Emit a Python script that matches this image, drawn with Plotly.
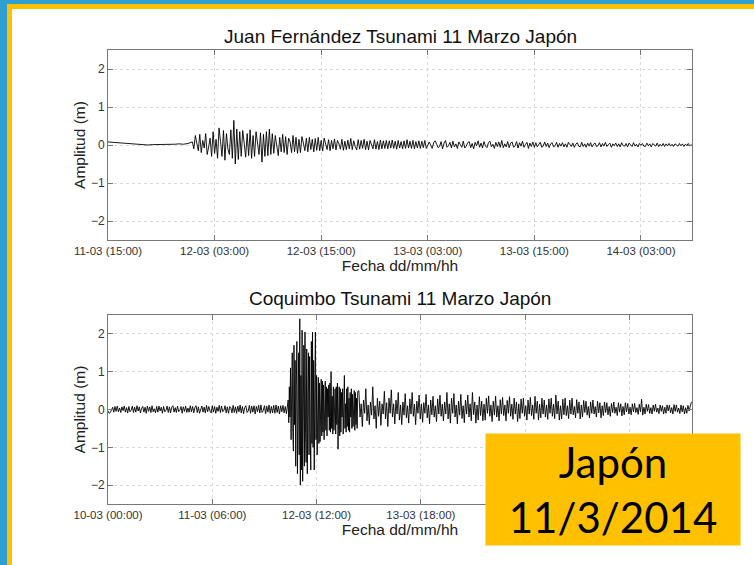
import pandas as pd
import plotly.graph_objects as go

# ---------------- data (amplitudes in cm) ----------------
# Juan Fernández record: segments (start time, sampling step in minutes, values)
jf_a_start, jf_a_step = "2011-03-11 15:00", 30
jf_a = [8, 7, 6, 6, 4, 3, 2, 1, 1, 0, 1, 1, 2, 1, 2, 2, 3, 2, 4, 8]

jf_b_start, jf_b_step = "2011-03-12 00:40", 10
jf_b = [-10, 25, 5, -15, 28, -20, 12, -8, 30, -25, -5, 18, -30, 35,
        -22, 15, -35, 45, 10, -30, 38, -40, 30, -10, -25, 40,
        -35, 65, -50, 42, -38, 35,
        -30, 38, 5, -32, 30, -28, 40, -35, 25, -30, 35, 10, -25, 32, -45, 28, -30, 35,
        -28, 42, -25, 30, -22, 25, -5, -28, 20, -18, 28, -20, 22, -25, 18, 8, -20, 25,
        -18, 20, -22, 15, -20, 22, 5, -15, 18, -18, 20, -12, 15, -18, 17, -14, 20, -15,
        12, -16, 18, -2, -12, 14, -15, 12, -10, 16, -13, 12, 3, -11, 15, -14, 10, -12,
        13, -10, 17, -12, 11, -4, -13, 14, -11, 12, -9, 15, -12, 10, -13, 12, 2, -10,
        14, -11, 9, -12, 13, -10, 11, -9, 12, -10, 11, -8, 13, -9, 10, -11, 12, -8,
        9, -10, 11, -9, 14, -8, 10, -9, 12, -10, 9, -8, 11, -9, 10, -7, 12, -9]

jf_c_start, jf_c_step = "2011-03-13 03:10", 10
jf_c = [8, -3, -9, 6, 11, 2, -7, -4, 9, -10, 5, 12, -6, -2, 7, -8, 10, -5,
        3, -9, 8, 1, -6, 10, -8, -3, 6, 9, -7, 4, -10, 7, -2, 11, -6, 5,
        -8, 9, -3, -7, 6, 10, -5, 2, -9, 7, -4, 8, -6, 12, -7, 3, -5, 9,
        -7, 5, 8, -6, -2, 9, -8, 6, -3, 10, -6, 1, 7, -9, 5, -4, 8, -6,
        6, -5, 2, 7, -6, -3, 8, -4, 5, -7, 3, 6, -5, -2, 7, -6, 4, -3,
        6, -5, 3, -6, 7, 1, -4, 5, -6, 2, 6, -3, -5, 7, -4, 3, -6, 5,
        -3, 6, -5, 2, 5, -4, -2, 6, -5, 4, -3, 7, -4, 1, 5, -6, 3, -2,
        5, -4, 3, -5, 6, -2, -3, 4, -5, 5, 1, -4, 6, -3, 2, -5, 4, -1,
        4, -3, -4, 5, -2, 3, -5, 4, 0, -3, 5, -4, 2, -3, 4, -4, 3, -2,
        4, -3, 2, -4, 3, 1, -3, 4, -2, 3, -4, 2, -1, 4, -3, 2]

# Coquimbo record
cq_a_start, cq_a_step = "2011-03-10 00:00", 20
cq_a = [-4, -10, -8, -2, 6, -7, 8, -5, 9, -6, 4, -8, 7, -3, 9, -7, 5, -9,
        8, -6, -2, 9, -8, 6, -7, 10, -4, 7, -9, 3, 8, -7, 6, -10, 9, -5,
        7, -8, 10, -6, 2, -9, 8, -7, 9, -4, 6, -10, 8, -6, -3, 9, -8, 7,
        -9, 6, 10, -7, 5, -8, 9, -6, -2, 8, -10, 7, -5, 9, -8, 4, -7, 10,
        -6, 8, -9, 5, 10, -8, 7, -10, 3, 9, -7, 6, -9, 11, -6, 8, -4, -9,
        10, -7, 8, -10, 6, -5, 11, -8, 9, -6, -3, 10, -9, 7, -10, 8, 5, -9,
        11, -8, 7, -10, 9, -6, 12, -9, 8, -11, 5, 10, -8, -4, 11, -10, 9, -7,
        10, -12, 8, -6, 11, -9, 12, -8, -3, 10, -11, 9, -7, 12, -10, 8, -9, 11,
        -10, 12, -8, 9, -12, 10, -6, 11, -9, 8, -11, 10]

cq_b_start, cq_b_step = "2011-03-12 03:50", 10
cq_b = [25, -35, 60, -20, 110, -80, 40,
        150, -60, -110, 170, -40, 130,
        -150, 60, 180, -170, -30, 150,
        -120, 240, -200, 90, -160, 210,
        -190, 70, 170, -150, 205, -60,
        -140, 160, -170, 40, 150, -120,
        140, -60, -160, 180, -90, 205,
        -100, 130, -160, 60, 205, -80,
        90, -120, 40, 85, -90, 70,
        -85, 30, 80, -70, 75, -60,
        65, -80, 20, 75, -55, 60,
        -70, 55, -20, 65, -55, 70,
        -60, 100, -50, 35, -65, 60,
        -55, 20, 55, -65, 60, -40,
        70, -105, 25, 60, -70, 55,
        -60, 45, -20, 55, -65, 50,
        90, -50, 15, -60, 55, -45,
        60, -55, 30, -60, 45, -20,
        55, -50, 40, -45, 15, 50,
        -55, 45, -40, 30, -50, 48]

cq_c_start, cq_c_step = "2011-03-13 00:10", 20
cq_c = [50, -20, 15, -45, 25, -10, 55, -30, 12, -40, 20, -15, 60, -25, 10, -50, 30, -18,
        22, -42, 15, -12, 48, -25, 18, -45, 30, -10, 52, -20, 15, -38, 25, -12, 45, -28,
        12, -40, 20, -15, 42, -22, 10, -36, 28, -12, 45, -18, 14, -40, 22, -10, 38, -25,
        15, -34, 18, -10, 40, -22, 12, -38, 25, -14, 35, -20, 10, -32, 28, -12, 38, -18,
        14, -30, 20, -12, 45, -25, 15, -36, 30, -10, 42, -20, 12, -38, 22, -15, 40, -24,
        10, -35, 25, -12, 38, -20, 15, -30, 45, -14, 20, -36, 12, -28, 34, -16, 22, -30,
        14, -28, 30, -10, 36, -18, 12, -32, 22, -15, 35, -20, 10, -30, 26, -12, 32, -16,
        12, -30, 24, -10, 34, -18, 14, -26, 30, -12, 20, -32, 15, -24, 28, -10, 30, -18,
        10, -28, 25, -12, 32, -16, 12, -26, 35, -10, 22, -28, 14, -22, 30, -12, 25, -20,
        12, -26, 28, -10, 30, -18, 14, -24, 38, -12, 22, -28, 10, -25, 27, -14, 30, -16,
        10, -24, 25, -12, 30, -14, 8, -22, 26, -10, 20, -25, 12, -20, 24, -8, 22, -15,
        8, -22, 20, -10, 25, -12, 8, -20, 22, -9, 18, -22, 10, -16, 20, -8, 18, -14,
        8, -18, 16, -8, 20, -10, 6, -16, 18, -7, 15, -17, 8, -14, 18, -6, 16, -12,
        6, -14, 15, -6, 16, -8, 5, -13, 14, -6, 27, -15, 6, -12, 14, -5, 13, -10,
        5, -12, 12, -5, 14, -7, 4, -11, 12, -5, 10, -12, 6, -10, 12, -4, 11, -9,
        5, -12, 13, -5, 12, -7, 4, -11, 12, -6, 10, -12, 5, -10, 11, -4, 9, 20]

# axis ticks
jf_tickvals = ["2011-03-11 15:00", "2011-03-12 03:00", "2011-03-12 15:00",
               "2011-03-13 03:00", "2011-03-13 15:00", "2011-03-14 03:00"]
jf_ticktext = ["11-03 (15:00)", "12-03 (03:00)", "12-03 (15:00)",
               "13-03 (03:00)", "13-03 (15:00)", "14-03 (03:00)"]
jf_range = ["2011-03-11 15:00", "2011-03-14 08:45"]

# the last two labels are hidden behind the "Japón" badge in the reference
cq_tickvals = ["2011-03-10 00:00", "2011-03-11 06:00", "2011-03-12 12:00",
               "2011-03-13 18:00", "2011-03-15 00:00", "2011-03-16 06:00"]
cq_ticktext = ["10-03 (00:00)", "11-03 (06:00)", "12-03 (12:00)",
               "13-03 (18:00)", "", ""]
cq_range = ["2011-03-10 00:00", "2011-03-17 00:00"]

y_tickvals = [-2, -1, 0, 1, 2]
y_range = [-2.5, 2.5]

title_jf = "Juan Fernández Tsunami 11 Marzo Japón"
title_cq = "Coquimbo Tsunami 11 Marzo Japón"
x_title = "Fecha dd/mm/hh"
y_title = "Amplitud (m)"
badge_text = "Japón<br>11/3/2014"


def build(segments):
    xs, ys = [], []
    for start, step, vals in segments:
        t = pd.date_range(start, periods=len(vals), freq=f"{step}min")
        xs.extend(t)
        ys.extend(v / 100.0 for v in vals)
    return xs, ys


jf_x, jf_y = build([(jf_a_start, jf_a_step, jf_a), (jf_b_start, jf_b_step, jf_b),
                    (jf_c_start, jf_c_step, jf_c)])
cq_x, cq_y = build([(cq_a_start, cq_a_step, cq_a), (cq_b_start, cq_b_step, cq_b),
                    (cq_c_start, cq_c_step, cq_c)])

W, H = 754, 565
FONT = "Liberation Sans, Arial, sans-serif"

fig = go.Figure()
fig.add_trace(go.Scatter(x=jf_x, y=jf_y, mode="lines", xaxis="x", yaxis="y",
                         line=dict(color="black", width=0.9), showlegend=False))
fig.add_trace(go.Scatter(x=cq_x, y=cq_y, mode="lines", xaxis="x2", yaxis="y2",
                         line=dict(color="black", width=0.9), showlegend=False))

x0, x1 = 108 / W, 692 / W
top_dom = [1 - 240 / H, 1 - 50 / H]
bot_dom = [1 - 504 / H, 1 - 315 / H]

common_x = dict(type="date", automargin=False, showline=True, linecolor="#777",
                linewidth=1, mirror="ticks", ticks="inside", ticklen=5, tickcolor="#777",
                showgrid=True, gridcolor="#d9d9d9", griddash="dot", gridwidth=1,
                zeroline=False, tickfont=dict(family=FONT, size=11.5, color="#333"),
                title=dict(text=x_title, font=dict(family=FONT, size=15.5, color="#222"),
                           standoff=2))
common_y = dict(automargin=False, range=y_range, tickvals=y_tickvals, showline=True,
                linecolor="#777", linewidth=1, mirror="ticks", ticks="inside", ticklen=5,
                tickcolor="#777", showgrid=True, gridcolor="#d9d9d9", griddash="dot",
                gridwidth=1, zeroline=False,
                tickfont=dict(family=FONT, size=12, color="#333"),
                title=dict(text=y_title, font=dict(family=FONT, size=15.5, color="#222"),
                           standoff=1))

fig.update_layout(
    width=W, height=H, margin=dict(l=0, r=0, t=0, b=0, autoexpand=False),
    paper_bgcolor="white", plot_bgcolor="white",
    xaxis=dict(common_x, domain=[x0, x1], anchor="y", range=jf_range,
               tickvals=jf_tickvals, ticktext=jf_ticktext),
    yaxis=dict(common_y, domain=top_dom, anchor="x"),
    xaxis2=dict(common_x, domain=[x0, x1], anchor="y2", range=cq_range,
                tickvals=cq_tickvals, ticktext=cq_ticktext),
    yaxis2=dict(common_y, domain=bot_dom, anchor="x2"),
    shapes=[
        dict(type="rect", xref="paper", yref="paper", x0=0, x1=1, y0=0, y1=1,
             fillcolor="#2f9fd1", line=dict(width=0), layer="below"),
        dict(type="rect", xref="paper", yref="paper", x0=7 / W, x1=1, y0=0, y1=1 - 4 / H,
             fillcolor="#ffc000", line=dict(width=0), layer="below"),
        dict(type="rect", xref="paper", yref="paper", x0=12 / W, x1=1, y0=0, y1=1 - 9 / H,
             fillcolor="white", line=dict(width=0), layer="below"),
    ],
    annotations=[
        dict(text=title_jf, xref="paper", yref="paper", x=400 / W, y=1 - 36 / H,
             xanchor="center", yanchor="middle", showarrow=False,
             font=dict(family=FONT, size=19, color="#111")),
        dict(text=title_cq, xref="paper", yref="paper", x=400 / W, y=1 - 298 / H,
             xanchor="center", yanchor="middle", showarrow=False,
             font=dict(family=FONT, size=19, color="#111")),
        dict(text=badge_text, xref="paper", yref="paper", x=613 / W, y=1 - 489.5 / H,
             xanchor="center", yanchor="middle", showarrow=False,
             width=254, height=111, bgcolor="#ffc000", borderpad=0,
             font=dict(family="Lato, Open Sans, sans-serif", size=42, color="black")),
    ],
)

fig.write_html("out.html", config={"displayModeBar": False},
               post_script="document.body.style.margin='0px';"
                           "document.body.style.overflow='hidden';")
